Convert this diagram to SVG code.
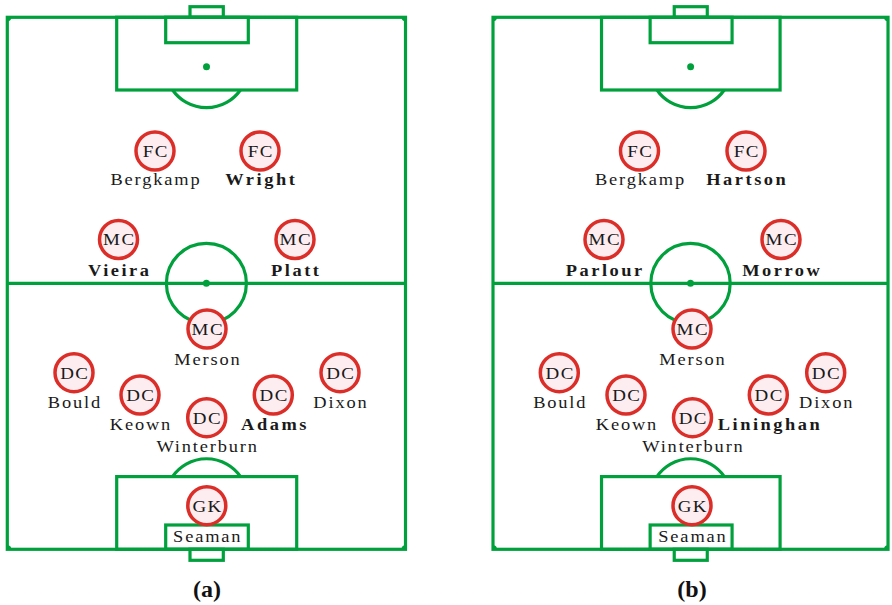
<svg xmlns="http://www.w3.org/2000/svg" xmlns:xlink="http://www.w3.org/1999/xlink" width="892" height="605" viewBox="0 0 892 605">
<style>
  .ln { fill: none; stroke: #00a03c; stroke-width: 3.2; }
  .dot { fill: #00a03c; }
  .pc { fill: #fdedf0; stroke: #dc2e28; stroke-width: 3.5; }
  .pos { font-family: "Liberation Serif", "Times New Roman", serif; font-size: 16.5px; letter-spacing: 1.3px; fill: #1a1a1a; text-anchor: middle; }
  .nm { font-family: "Liberation Serif", "Times New Roman", serif; font-size: 16px; letter-spacing: 1.6px; fill: #1a1a1a; text-anchor: middle; }
  .bd { font-weight: bold; letter-spacing: 2.2px; }
  .cap { font-family: "Liberation Serif", "Times New Roman", serif; font-size: 24px; font-weight: bold; fill: #111; text-anchor: middle; }
</style>
<defs>
  <g id="pitch">
    <rect class="ln" x="7.3" y="17.3" width="398.2" height="532"/>
    <line class="ln" x1="7.3" y1="283.3" x2="405.5" y2="283.3"/>
    <circle class="ln" cx="206.4" cy="283.3" r="40"/>
    <circle class="dot" cx="206.4" cy="283.3" r="3.5"/>
    <rect class="ln" x="116.7" y="17.3" width="180" height="72.7"/>
    <rect class="ln" x="165.7" y="17.3" width="82.6" height="25.4"/>
    <rect class="ln" x="190" y="6.7" width="33.3" height="10.6"/>
    <circle class="dot" cx="206.5" cy="66.7" r="3.5"/>
    <path class="ln" d="M172.6,90 A41.3,41.3 0 0 0 240.4,90"/>
    <rect class="ln" x="116.7" y="476.6" width="180" height="72.7"/>
    <rect class="ln" x="165.7" y="525" width="82.6" height="24.3"/>
    <rect class="ln" x="190" y="549.3" width="33.3" height="11"/>
    <circle class="dot" cx="206.5" cy="500" r="3.5"/>
    <path class="ln" d="M172.5,476.6 A41.3,41.3 0 0 1 240.5,476.6"/>
    <path class="dot" d="M7.3,17.3 H11.3 A4,4 0 0 1 7.3,21.3 Z"/>
    <path class="dot" d="M405.5,17.3 H401.5 A4,4 0 0 0 405.5,21.3 Z"/>
    <path class="dot" d="M7.3,549.3 H11.3 A4,4 0 0 0 7.3,545.3 Z"/>
    <path class="dot" d="M405.5,549.3 H401.5 A4,4 0 0 1 405.5,545.3 Z"/>
  </g>
</defs>
<g id="pitch-a"><use xlink:href="#pitch" href="#pitch"/></g>
<g id="pitch-b"><use xlink:href="#pitch" href="#pitch" transform="translate(493,0) scale(0.992,1) translate(-7.3,0)"/></g>
<g id="connectors"/>
<g id="a-bergkamp" transform="translate(155,151)"><circle class="pc" r="19"/><g transform="scale(1.15,1)"><text class="pos" x="0.7" y="5.8">FC</text><text class="nm" x="0.8" y="34.5">Bergkamp</text></g></g>
<g id="a-wright" transform="translate(260,151)"><circle class="pc" r="19"/><g transform="scale(1.15,1)"><text class="pos" x="0.7" y="5.8">FC</text><text class="nm bd" x="1.1" y="34.5">Wright</text></g></g>
<g id="a-vieira" transform="translate(118.5,239.5)"><circle class="pc" r="19"/><g transform="scale(1.15,1)"><text class="pos" x="0.7" y="5.8">MC</text><text class="nm bd" x="1.1" y="36.5">Vieira</text></g></g>
<g id="a-platt" transform="translate(295,239.5)"><circle class="pc" r="19"/><g transform="scale(1.15,1)"><text class="pos" x="0.7" y="5.8">MC</text><text class="nm bd" x="1.1" y="36.5">Platt</text></g></g>
<g id="a-merson" transform="translate(207,329)"><circle class="pc" r="19"/><g transform="scale(1.15,1)"><text class="pos" x="0.7" y="5.8">MC</text><text class="nm" x="0.8" y="36">Merson</text></g></g>
<g id="a-bould" transform="translate(74,372.7)"><circle class="pc" r="19"/><g transform="scale(1.15,1)"><text class="pos" x="0.7" y="5.8">DC</text><text class="nm" x="0.8" y="35.5">Bould</text></g></g>
<g id="a-keown" transform="translate(140,395)"><circle class="pc" r="19"/><g transform="scale(1.15,1)"><text class="pos" x="0.7" y="5.8">DC</text><text class="nm" x="0.8" y="35">Keown</text></g></g>
<g id="a-winterburn" transform="translate(206.7,417.7)"><circle class="pc" r="19"/><g transform="scale(1.15,1)"><text class="pos" x="0.7" y="5.8">DC</text><text class="nm" x="0.8" y="34">Winterburn</text></g></g>
<g id="a-adams" transform="translate(273.3,395)"><circle class="pc" r="19"/><g transform="scale(1.15,1)"><text class="pos" x="0.7" y="5.8">DC</text><text class="nm bd" x="1.5" y="35">Adams</text></g></g>
<g id="a-dixon" transform="translate(340,372.7)"><circle class="pc" r="19"/><g transform="scale(1.15,1)"><text class="pos" x="0.7" y="5.8">DC</text><text class="nm" x="0.8" y="35.5">Dixon</text></g></g>
<g id="a-seaman" transform="translate(206.8,505.7)"><circle class="pc" r="19"/><g transform="scale(1.15,1)"><text class="pos" x="0.7" y="5.8">GK</text><text class="nm" x="0.8" y="36">Seaman</text></g></g>
<g id="b-bergkamp" transform="translate(639.5,151)"><circle class="pc" r="19"/><g transform="scale(1.15,1)"><text class="pos" x="0.7" y="5.8">FC</text><text class="nm" x="0.8" y="34.5">Bergkamp</text></g></g>
<g id="b-hartson" transform="translate(746,151)"><circle class="pc" r="19"/><g transform="scale(1.15,1)"><text class="pos" x="0.7" y="5.8">FC</text><text class="nm bd" x="1.1" y="34.5">Hartson</text></g></g>
<g id="b-parlour" transform="translate(604,239.5)"><circle class="pc" r="19"/><g transform="scale(1.15,1)"><text class="pos" x="0.7" y="5.8">MC</text><text class="nm bd" x="1.1" y="36.5">Parlour</text></g></g>
<g id="b-morrow" transform="translate(781,239.5)"><circle class="pc" r="19"/><g transform="scale(1.15,1)"><text class="pos" x="0.7" y="5.8">MC</text><text class="nm bd" x="1.1" y="36.5">Morrow</text></g></g>
<g id="b-merson" transform="translate(692,329)"><circle class="pc" r="19"/><g transform="scale(1.15,1)"><text class="pos" x="0.7" y="5.8">MC</text><text class="nm" x="0.8" y="36">Merson</text></g></g>
<g id="b-bould" transform="translate(559.3,372.7)"><circle class="pc" r="19"/><g transform="scale(1.15,1)"><text class="pos" x="0.7" y="5.8">DC</text><text class="nm" x="0.8" y="35.5">Bould</text></g></g>
<g id="b-keown" transform="translate(626,395)"><circle class="pc" r="19"/><g transform="scale(1.15,1)"><text class="pos" x="0.7" y="5.8">DC</text><text class="nm" x="0.8" y="35">Keown</text></g></g>
<g id="b-winterburn" transform="translate(692.5,417.7)"><circle class="pc" r="19"/><g transform="scale(1.15,1)"><text class="pos" x="0.7" y="5.8">DC</text><text class="nm" x="0.8" y="34">Winterburn</text></g></g>
<g id="b-lininghan" transform="translate(768.3,395)"><circle class="pc" r="19"/><g transform="scale(1.15,1)"><text class="pos" x="0.7" y="5.8">DC</text><text class="nm bd" x="1.5" y="35">Lininghan</text></g></g>
<g id="b-dixon" transform="translate(825.7,372.7)"><circle class="pc" r="19"/><g transform="scale(1.15,1)"><text class="pos" x="0.7" y="5.8">DC</text><text class="nm" x="0.8" y="35.5">Dixon</text></g></g>
<g id="b-seaman" transform="translate(692,505.7)"><circle class="pc" r="19"/><g transform="scale(1.15,1)"><text class="pos" x="0.7" y="5.8">GK</text><text class="nm" x="0.8" y="36">Seaman</text></g></g>
<g id="captions">
  <text class="cap" x="207" y="597">(a)</text>
  <text class="cap" x="692" y="597">(b)</text>
</g>
</svg>
